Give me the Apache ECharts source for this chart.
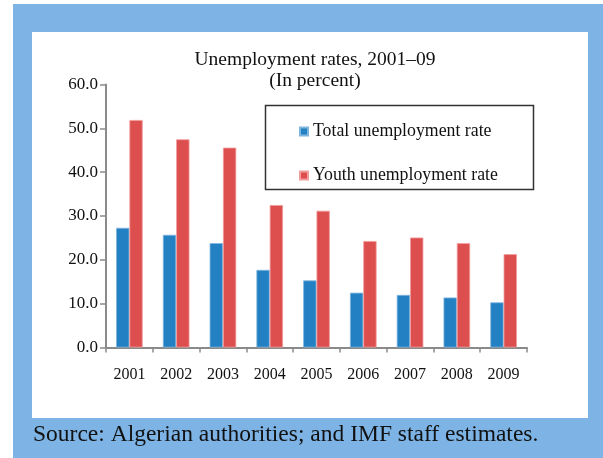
<!DOCTYPE html>
<html>
<head>
<meta charset="utf-8">
<script src="https://cdn.jsdelivr.net/npm/echarts@6/dist/echarts.min.js"></script>
<style>
  html, body { margin: 0; padding: 0; background: #ffffff; }
  #chart { width: 603px; height: 458px; }
</style>
</head>
<body>
<div id="chart"></div>
<script>
// Unemployment rates in Algeria, 2001–09 (in percent)
const years = ['2001', '2002', '2003', '2004', '2005', '2006', '2007', '2008', '2009'];
const totalRate = [27.3, 25.7, 23.8, 17.7, 15.3, 12.5, 12.0, 11.4, 10.3];
const youthRate = [51.9, 47.5, 45.6, 32.5, 31.2, 24.3, 25.1, 23.8, 21.3];
const seriesNames = ['Total unemployment rate', 'Youth unemployment rate'];
const titleText = 'Unemployment rates, 2001–09\n(In percent)';
const sourceText = 'Source: Algerian authorities; and IMF staff estimates.';

const serif = '"Liberation Serif", "DejaVu Serif", serif';
const axisGrey = '#8a8a8a';

const chart = echarts.init(document.getElementById('chart'), null, { renderer: 'canvas' });

chart.setOption({
  animation: false,
  backgroundColor: '#ffffff',
  textStyle: { fontFamily: serif },
  graphic: [
    // blue frame
    { type: 'rect', z: -10, silent: true,
      shape: { x: 13, y: 4, width: 590, height: 454 },
      style: { fill: '#7db3e5' } },
    // white chart panel
    { type: 'rect', z: -9, silent: true,
      shape: { x: 32, y: 32, width: 556, height: 386 },
      style: { fill: '#ffffff' } },
    // legend frame
    { type: 'rect', z: 5, silent: true,
      shape: { x: 265.5, y: 105.5, width: 268, height: 84 },
      style: { fill: 'none', stroke: '#333333', lineWidth: 1.5 } },
    // source note
    { type: 'text', z: 5, silent: true,
      x: 33, y: 435,
      style: { text: sourceText, font: '23.5px ' + serif, fill: '#111111',
               verticalAlign: 'middle', textAlign: 'left' } }
  ],
  title: {
    text: titleText,
    left: 310,
    top: 44,
    textAlign: 'center',
    textStyle: { fontFamily: serif, fontSize: 19.5, fontWeight: 'normal',
                 color: '#111111', lineHeight: 21 }
  },
  legend: {
    orient: 'vertical',
    left: 294,
    top: 117,
    itemWidth: 8,
    itemHeight: 8,
    itemGap: 25,
    icon: 'rect',
    data: seriesNames,
    textStyle: { fontFamily: serif, fontSize: 17.8, color: '#111111', lineHeight: 19 }
  },
  grid: { left: 106, right: 76, top: 84.5, bottom: 110.5, containLabel: false },
  xAxis: {
    type: 'category',
    data: years,
    axisLine: { lineStyle: { color: axisGrey, width: 2 } },
    axisTick: { show: true, length: 5, lineStyle: { color: axisGrey, width: 1.5 } },
    axisLabel: { fontFamily: serif, fontSize: 16, color: '#111111', margin: 19 }
  },
  yAxis: {
    type: 'value',
    min: 0,
    max: 60,
    interval: 10,
    splitLine: { show: false },
    axisLine: { show: true, lineStyle: { color: axisGrey, width: 2 } },
    axisTick: { show: true, length: 6, lineStyle: { color: axisGrey, width: 1.5 } },
    axisLabel: { fontFamily: serif, fontSize: 17, color: '#111111', margin: 8,
                 formatter: v => v.toFixed(1) }
  },
  series: [
    { name: seriesNames[0], type: 'bar', data: totalRate, barWidth: 13.3, barGap: '0%',
      itemStyle: { color: '#2380c3', borderColor: '#7fb4dd', borderWidth: 0.8 } },
    { name: seriesNames[1], type: 'bar', data: youthRate, barWidth: 13.3, barGap: '0%',
      itemStyle: { color: '#dd4f4f', borderColor: '#f19c9c', borderWidth: 0.8 } }
  ]
});
</script>
</body>
</html>
